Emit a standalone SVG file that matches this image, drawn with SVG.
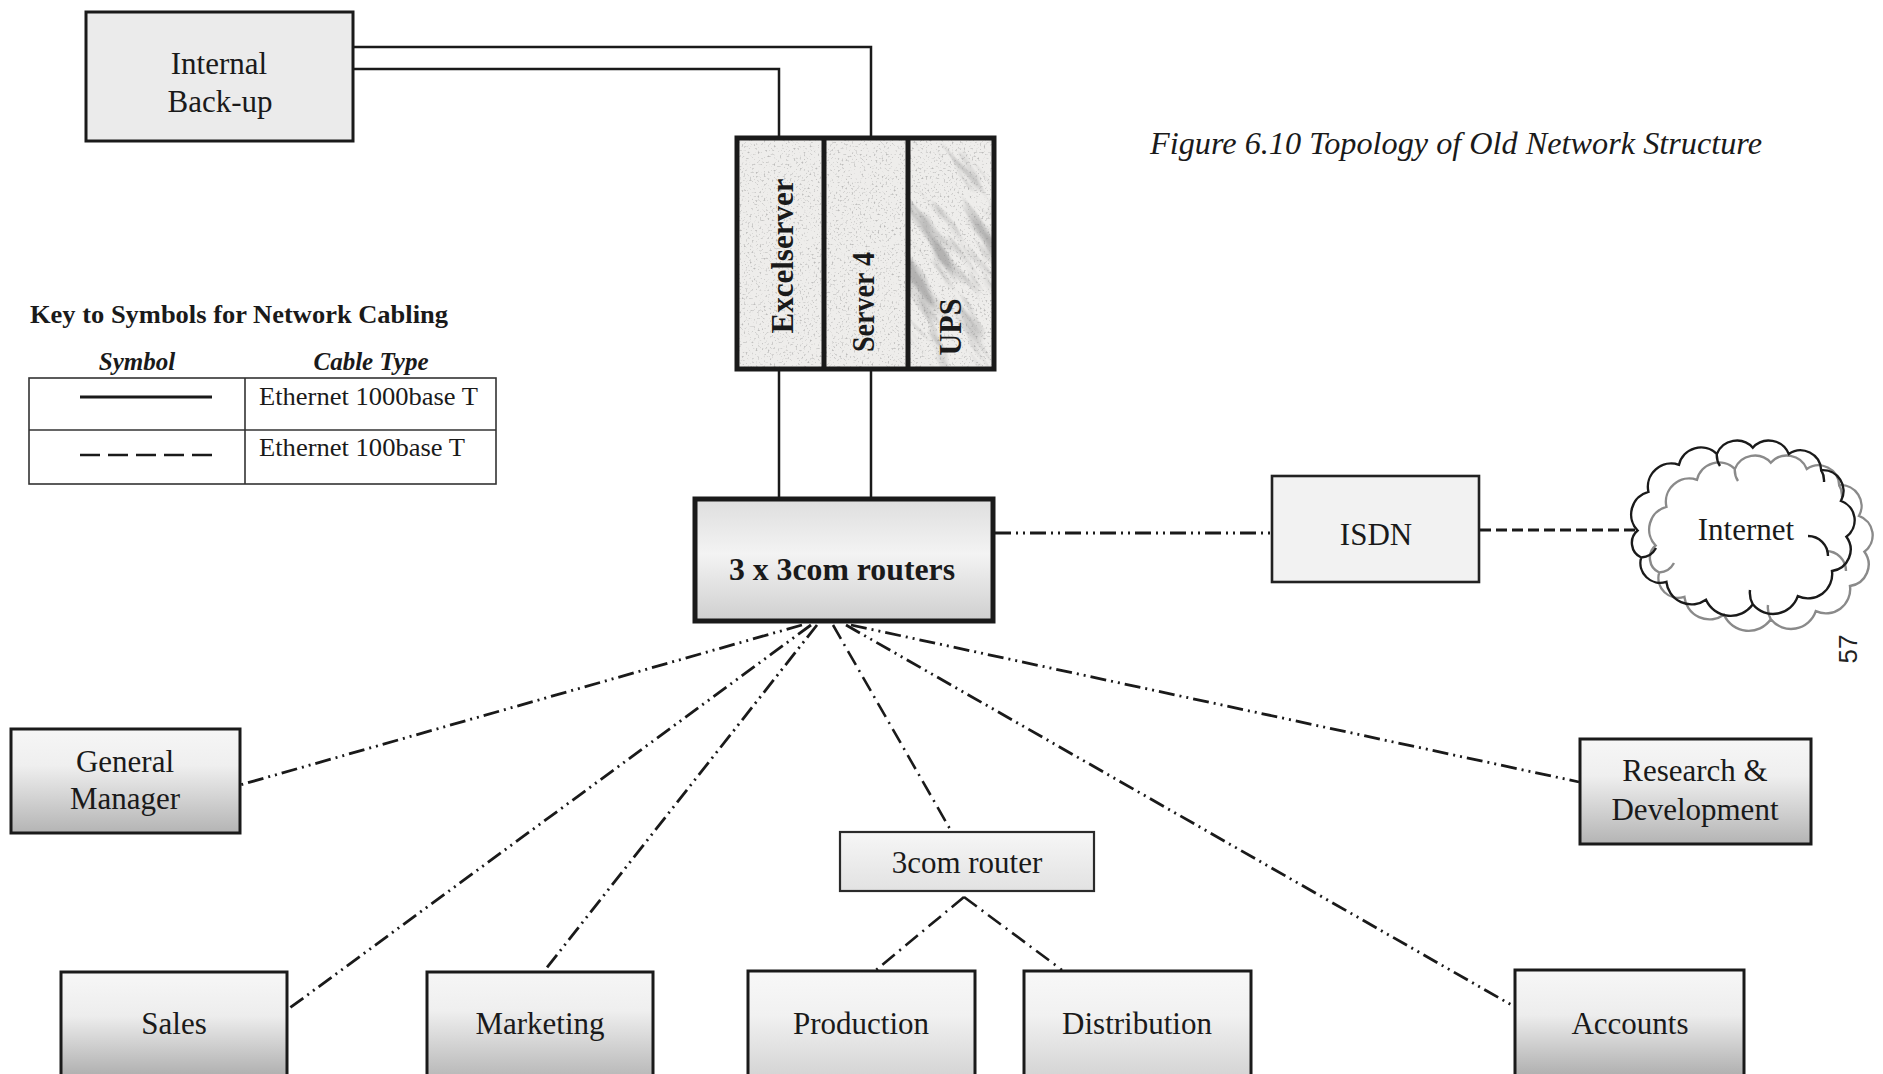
<svg xmlns="http://www.w3.org/2000/svg" width="1883" height="1074" viewBox="0 0 1883 1074">
  <style>
    .lbl { font-family: "Liberation Serif", "Times New Roman", serif; font-size: 31px; fill: #1a1a1a; text-anchor: middle; }
    .bold { font-weight: bold; }
    .box { stroke: #1a1a1a; stroke-width: 3; }
    .thick { stroke: #1a1a1a; stroke-width: 5; }
    .thin { stroke: #2a2a2a; stroke-width: 2.2; }
    .cable { fill: none; stroke: #1a1a1a; stroke-width: 2.5; }
    .ddot { fill: none; stroke: #1a1a1a; stroke-width: 2.8; stroke-dasharray: 16 5 2 5 2 5; }
    .ddot2 { fill: none; stroke: #1a1a1a; stroke-width: 2.6; stroke-dasharray: 16 6 2 6; }
    .dash { fill: none; stroke: #1a1a1a; stroke-width: 3; stroke-dasharray: 11 5; }
    .cloud { fill: none; stroke-width: 2.4; }
    .key { font-family: "Liberation Serif", "Times New Roman", serif; fill: #1a1a1a; }
  </style>
  <defs>
    <linearGradient id="gRouter" x1="0" y1="0" x2="0" y2="1">
      <stop offset="0" stop-color="#dedede"/>
      <stop offset="0.45" stop-color="#f3f3f3"/>
      <stop offset="1" stop-color="#cfcfcf"/>
    </linearGradient>
    <linearGradient id="gDept" x1="0" y1="0" x2="0" y2="1">
      <stop offset="0" stop-color="#f6f6f6"/>
      <stop offset="0.35" stop-color="#efefef"/>
      <stop offset="1" stop-color="#b4b4b4"/>
    </linearGradient>
    <linearGradient id="gDeptDark" x1="0" y1="0" x2="0" y2="1">
      <stop offset="0" stop-color="#f7f7f7"/>
      <stop offset="0.4" stop-color="#ededed"/>
      <stop offset="1" stop-color="#a9a9a9"/>
    </linearGradient>
    <linearGradient id="gDeptLight" x1="0" y1="0" x2="0" y2="1">
      <stop offset="0" stop-color="#f8f8f8"/>
      <stop offset="0.4" stop-color="#f1f1f1"/>
      <stop offset="1" stop-color="#d2d2d2"/>
    </linearGradient>
    <linearGradient id="gSmall" x1="0" y1="0" x2="0" y2="1">
      <stop offset="0" stop-color="#f6f6f6"/>
      <stop offset="1" stop-color="#e2e2e2"/>
    </linearGradient>
    <filter id="speckle" x="0" y="0" width="100%" height="100%" color-interpolation-filters="sRGB">
      <feTurbulence type="fractalNoise" baseFrequency="0.5" numOctaves="2" seed="7" result="n"/>
      <feColorMatrix in="n" type="matrix" values="0 0 0 0 0.5  0 0 0 0 0.5  0 0 0 0 0.5  5 0 0 0 -2.9" result="s"/>
      <feComposite in="s" in2="SourceGraphic" operator="in"/>
    </filter>
    <filter id="smudge" x="0" y="0" width="100%" height="100%" color-interpolation-filters="sRGB">
      <feTurbulence type="fractalNoise" baseFrequency="0.012 0.06" numOctaves="3" seed="4" result="n"/>
      <feColorMatrix in="n" type="matrix" values="0 0 0 0 0.55  0 0 0 0 0.55  0 0 0 0 0.55  4 0 0 0 -2.0" result="s"/>
      <feComposite in="s" in2="SourceGraphic" operator="in"/>
    </filter>
    <clipPath id="upsClip"><rect x="908" y="138" width="86" height="231"/></clipPath>
    <!-- cloud outline with a few inner curls, centred on the origin -->
    <path id="cloudShape" d="M-104.4,4.5 A23.4,23.4 0 0 1 -93.6,-34.2 A23.4,23.4 0 0 1 -63,-61.2 A22.5,22.5 0 0 1 -25.2,-72 A21.6,21.6 0 0 1 10.8,-78.3 A21.6,21.6 0 0 1 46.8,-72 A20.7,20.7 0 0 1 79.2,-55.8 A20.7,20.7 0 0 1 99,-25.2 A20.7,20.7 0 0 1 104.4,10.8 A21.6,21.6 0 0 1 90,45 A24.3,24.3 0 0 1 55.8,70.2 A26.1,26.1 0 0 1 10.8,78.3 A27,27 0 0 1 -36,73.8 A25.2,25.2 0 0 1 -75.6,55.8 A19.8,19.8 0 0 1 -100.8,31.5 A16.2,16.2 0 0 1 -104.4,4.5 Z M-100.8,31.5 A18,18 0 0 0 -86,22 M-25.2,-72 A20,20 0 0 0 -22,-60 M66,10 A20,20 0 0 1 86,30 M10.8,78.3 A24,24 0 0 1 8,64 M79.2,-55.8 A20,20 0 0 1 82,-44"/>
  </defs>

  <rect width="1883" height="1074" fill="#ffffff"/>

  <!-- caption -->
  <text x="1456" y="154" class="key" font-size="32" font-style="italic" text-anchor="middle" textLength="612" lengthAdjust="spacingAndGlyphs">Figure 6.10 Topology of Old Network Structure</text>

  <!-- cabling legend -->
  <g id="legend">
    <text x="30" y="323" class="key" font-size="25" font-weight="bold" textLength="418" lengthAdjust="spacingAndGlyphs">Key to Symbols for Network Cabling</text>
    <text x="137" y="370" class="key" font-size="25" font-weight="bold" font-style="italic" text-anchor="middle">Symbol</text>
    <text x="371" y="370" class="key" font-size="25" font-weight="bold" font-style="italic" text-anchor="middle">Cable Type</text>
    <rect x="29" y="378" width="467" height="106" fill="none" stroke="#333" stroke-width="1.6"/>
    <line x1="29" y1="430" x2="496" y2="430" stroke="#333" stroke-width="1.6"/>
    <line x1="245" y1="378" x2="245" y2="484" stroke="#333" stroke-width="1.6"/>
    <line x1="80" y1="397" x2="212" y2="397" stroke="#1a1a1a" stroke-width="3"/>
    <line x1="80" y1="455" x2="212" y2="455" stroke="#1a1a1a" stroke-width="2.6" stroke-dasharray="20 8"/>
    <text x="259" y="405" class="key" font-size="26" textLength="219" lengthAdjust="spacingAndGlyphs">Ethernet 1000base T</text>
    <text x="259" y="456" class="key" font-size="26" textLength="206" lengthAdjust="spacingAndGlyphs">Ethernet 100base T</text>
  </g>

  <!-- cabling between devices -->
  <g id="connectors">
    <path class="cable" d="M353,47 H871 V138"/>
    <path class="cable" d="M353,69 H779 V138"/>
    <path class="cable" d="M779,369 V497"/>
    <path class="cable" d="M871,369 V497"/>
    <path class="ddot" d="M995,533 H1271"/>
    <path class="dash" d="M1480,530 H1636"/>
    <path class="ddot" d="M802,625 L240,785"/>
    <path class="ddot" d="M811,625 L287,1010"/>
    <path class="ddot" d="M817,625 L545,970"/>
    <path class="ddot2" d="M833,625 L950,829"/>
    <path class="ddot" d="M846,625 L1515,1007"/>
    <path class="ddot" d="M851,625 L1579,782"/>
    <path class="ddot2" d="M964,897 L876,970"/>
    <path class="ddot2" d="M964,897 L1062,970"/>
  </g>

  <g id="internal-backup">
    <rect x="86" y="12" width="267" height="129" fill="#ebebeb" class="box"/>
    <text x="219" y="74" class="lbl">Internal</text>
    <text x="220" y="112" class="lbl">Back-up</text>
  </g>

  <g id="server-rack">
    <rect x="737" y="138" width="257" height="231" fill="#eeedeb"/>
    <rect x="737" y="138" width="257" height="231" fill="#000" filter="url(#speckle)" opacity="0.45"/>
    <g clip-path="url(#upsClip)">
      <rect x="800" y="60" width="300" height="400" fill="#000" filter="url(#smudge)" opacity="0.6" transform="rotate(55 951 253)"/>
    </g>
    <rect x="737" y="138" width="257" height="231" fill="none" class="thick"/>
    <line x1="824" y1="138" x2="824" y2="369" class="thick"/>
    <line x1="908" y1="138" x2="908" y2="369" class="thick"/>
    <text class="lbl bold" font-size="30" transform="translate(793,256) rotate(-90)" textLength="155" lengthAdjust="spacingAndGlyphs">Excelserver</text>
    <text class="lbl bold" font-size="28" transform="translate(874,302) rotate(-90)" textLength="100" lengthAdjust="spacingAndGlyphs">Server 4</text>
    <text class="lbl bold" font-size="30" transform="translate(961,327) rotate(-90)" textLength="57" lengthAdjust="spacingAndGlyphs">UPS</text>
  </g>

  <g id="routers">
    <rect x="695" y="499" width="298" height="122" fill="url(#gRouter)" class="thick"/>
    <text x="842" y="580" class="lbl bold" textLength="226" lengthAdjust="spacingAndGlyphs">3 x 3com routers</text>
  </g>

  <g id="isdn">
    <rect x="1272" y="476" width="207" height="106" fill="#f2f2f2" stroke="#222" stroke-width="2.6"/>
    <text x="1376" y="545" class="lbl" font-size="32">ISDN</text>
  </g>

  <g id="internet">
    <use href="#cloudShape" transform="translate(1760,541)" class="cloud" stroke="#8a8a8a"/>
    <use href="#cloudShape" transform="translate(1742,526)" class="cloud" stroke="#1a1a1a"/>
    <text x="1746" y="540" class="lbl">Internet</text>
  </g>

  <text transform="translate(1857,649) rotate(-90)" font-family="'Liberation Sans', Arial, sans-serif" font-size="26" fill="#222" text-anchor="middle">57</text>

  <g id="general-manager">
    <rect x="11" y="729" width="229" height="104" fill="url(#gDept)" class="box"/>
    <text x="125" y="772" class="lbl">General</text>
    <text x="125" y="809" class="lbl">Manager</text>
  </g>

  <g id="research-development">
    <rect x="1580" y="739" width="231" height="105" fill="url(#gDept)" class="box" stroke-width="3.5"/>
    <text x="1695" y="781" class="lbl">Research &amp;</text>
    <text x="1695" y="820" class="lbl">Development</text>
  </g>

  <g id="router-3com">
    <rect x="840" y="832" width="254" height="59" fill="url(#gSmall)" class="thin"/>
    <text x="967" y="873" class="lbl" font-size="30">3com router</text>
  </g>

  <g id="sales">
    <rect x="61" y="972" width="226" height="110" fill="url(#gDeptDark)" class="box"/>
    <text x="174" y="1034" class="lbl">Sales</text>
  </g>

  <g id="marketing">
    <rect x="427" y="972" width="226" height="110" fill="url(#gDept)" class="box"/>
    <text x="540" y="1034" class="lbl">Marketing</text>
  </g>

  <g id="production">
    <rect x="748" y="971" width="227" height="110" fill="url(#gDeptLight)" class="box"/>
    <text x="861" y="1034" class="lbl">Production</text>
  </g>

  <g id="distribution">
    <rect x="1024" y="971" width="227" height="110" fill="url(#gDeptLight)" class="box"/>
    <text x="1137" y="1034" class="lbl">Distribution</text>
  </g>

  <g id="accounts">
    <rect x="1515" y="970" width="229" height="112" fill="url(#gDeptDark)" class="box"/>
    <text x="1630" y="1034" class="lbl">Accounts</text>
  </g>
</svg>
